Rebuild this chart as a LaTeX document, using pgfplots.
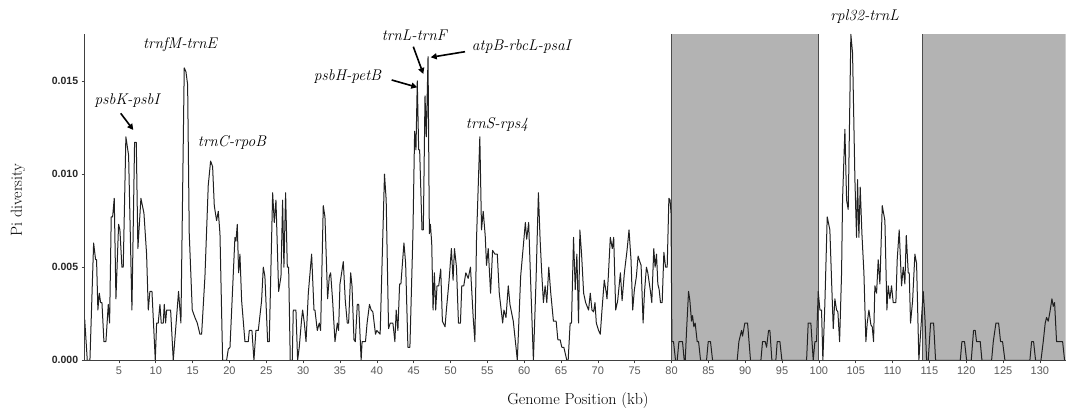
\documentclass[border=0pt]{standalone}
\usepackage{fontspec}
\usepackage{pgfplots}
\pgfplotsset{compat=1.18}
\usetikzlibrary{arrows.meta}
\newfontfamily\arial{Liberation Sans}
\definecolor{shade}{HTML}{B3B3B3}
\definecolor{curve}{HTML}{202020}
\pgfplotstableread{
kb pi
0.35 0.0022
0.70 0
1.06 0
1.56 0.0063
1.83 0.0054
1.96 0.0054
2.14 0.0027
2.33 0.0036
2.51 0.0031
2.69 0.0031
2.96 0.0010
3.23 0.0010
3.55 0.0030
3.73 0.0020
3.95 0.0077
4.14 0.0077
4.36 0.0087
4.59 0.0033
4.95 0.0073
5.13 0.0070
5.40 0.0050
5.58 0.0050
5.94 0.0120
6.31 0.0110
6.76 0.0027
7.12 0.0117
7.35 0.0117
7.57 0.0060
7.98 0.0087
8.39 0.0079
8.75 0.0057
8.98 0.0027
9.20 0.0037
9.48 0.0037
9.93 0
10.11 0.0020
10.33 0.0020
10.56 0.0030
10.74 0.0020
11.01 0.0020
11.15 0.0030
11.33 0.0020
11.47 0.0027
12.01 0.0027
12.37 0
13.09 0.0037
13.41 0.0020
13.86 0.0157
14.09 0.0155
14.32 0.0148
14.54 0.0068
14.95 0.0027
15.31 0.0023
15.63 0.0020
15.99 0.0014
16.22 0.0014
16.67 0.0045
17.12 0.0094
17.44 0.0107
17.71 0.0104
17.94 0.0083
18.25 0.0075
18.48 0.0080
18.71 0.0068
19.07 0
19.61 0
19.84 0.0006
20.07 0.0007
20.74 0.0066
20.88 0.0064
21.06 0.0073
21.24 0.0047
21.42 0.0057
21.65 0.0032
22.10 0.0010
22.55 0.0010
22.69 0.0016
23.05 0.0016
23.32 0
23.59 0.0016
23.91 0.0016
24.36 0.0032
24.59 0.0050
24.81 0.0045
25.18 0.0010
25.40 0.0010
25.86 0.0090
26.08 0.0074
26.31 0.0086
26.67 0.0037
26.99 0.0045
27.21 0.0086
27.39 0.0050
27.62 0.0090
27.85 0.0050
28.03 0.0050
28.25 0
28.52 0
28.66 0.0027
29.02 0.0027
29.25 0
29.47 0.0007
29.79 0.0022
29.93 0.0027
30.16 0.0020
30.39 0.0010
30.70 0.0036
31.15 0.0057
31.47 0.0027
31.60 0.0027
31.92 0.0016
32.19 0.0020
32.37 0.0016
32.73 0.0083
32.96 0.0077
33.32 0.0033
33.55 0.0045
33.73 0.0047
34.00 0.0032
34.32 0.0010
34.64 0.0020
34.81 0.0016
35.00 0.0041
35.45 0.0053
35.72 0.0032
35.99 0.0020
36.17 0.0020
36.45 0.0047
36.63 0.0040
36.90 0.0011
37.08 0.0010
37.35 0.0030
37.54 0.0030
37.87 0
38.00 0.0010
38.46 0.0010
38.68 0.0020
39.00 0.0030
39.23 0.0027
39.46 0.0026
39.82 0.0014
40.00 0.0016
40.23 0.0015
40.45 0.0014
41.04 0.0100
41.27 0.0086
41.59 0.0017
41.82 0.0020
42.18 0.0020
42.32 0.0015
42.45 0.0010
42.63 0.0027
42.86 0.0016
43.09 0.0041
43.27 0.0041
43.68 0.0063
43.91 0.0052
44.22 0.0007
44.49 0.0007
44.90 0.0068
45.13 0.0123
45.31 0.0113
45.49 0.0150
45.68 0.0113
45.81 0.0113
46.13 0.0070
46.31 0.0070
46.54 0.0142
46.72 0.0120
46.95 0.0163
47.13 0.0068
47.27 0.0073
47.45 0.0063
47.63 0.0027
47.81 0.0047
47.99 0.0027
48.17 0.0040
48.40 0.0040
48.67 0.0049
48.90 0.0021
49.26 0.0018
49.44 0.0027
49.81 0.0043
50.12 0.0060
50.35 0.0043
50.54 0.0060
50.81 0.0050
51.08 0.0020
51.35 0.0020
51.53 0.0040
51.80 0.0040
52.08 0.0047
52.40 0.0044
52.71 0.0050
53.08 0.0023
53.31 0.0010
53.53 0.0065
53.98 0.0120
54.21 0.0070
54.44 0.0080
54.71 0.0067
54.89 0.0051
55.12 0.0060
55.44 0.0036
55.71 0.0059
56.03 0.0057
56.35 0.0057
56.62 0.0036
57.08 0.0020
57.25 0.0027
57.53 0.0023
57.84 0.0040
58.07 0.0030
58.52 0.0021
58.89 0.0007
59.07 0
59.52 0.0045
60.16 0.0074
60.34 0.0065
60.61 0.0074
60.88 0.0042
61.25 0
61.61 0.0043
61.93 0.0090
62.16 0.0065
62.38 0.0047
62.61 0.0031
62.84 0.0040
63.07 0.0031
63.34 0.0050
63.61 0.0036
63.97 0.0021
64.34 0.0021
64.57 0.0011
64.88 0.0011
65.11 0.0007
65.38 0.0007
65.79 0
65.97 0
66.24 0.0020
66.42 0.0020
66.70 0.0066
66.93 0.0038
67.15 0.0057
67.38 0.0020
67.56 0.0070
67.79 0.0057
68.07 0.0036
68.34 0.0031
68.74 0.0027
68.97 0.0036
69.20 0.0027
69.42 0.0026
69.61 0.0031
69.79 0.0020
70.10 0.0016
70.33 0.0014
70.56 0.0027
70.87 0.0043
71.15 0.0036
71.24 0.0033
71.42 0.0045
71.69 0.0066
71.96 0.0060
72.15 0.0066
72.42 0.0027
72.69 0.0032
73.06 0.0047
73.29 0.0032
73.60 0.0047
73.96 0.0059
74.23 0.0070
74.50 0.0054
74.73 0.0027
74.96 0.0038
75.23 0.0045
75.46 0.0056
75.69 0.0053
75.87 0.0051
76.14 0.0020
76.32 0.0036
76.59 0.0050
76.78 0.0047
77.14 0.0037
77.32 0.0031
77.59 0.0060
77.77 0.0050
77.96 0.0057
78.14 0.0041
78.32 0.0038
78.50 0.0031
78.73 0.0031
78.96 0.0058
79.19 0.0050
79.41 0.0050
79.64 0.0087
79.80 0.0086
79.93 0.0079
80.05 0.0010
80.27 0.0010
80.54 0
80.77 0
81.00 0.0010
81.49 0.0010
81.72 0
81.86 0
82.04 0.0016
82.31 0.0037
82.49 0.0032
82.71 0.0021
82.85 0.0024
83.03 0.0018
83.21 0.0020
83.48 0.0010
83.67 0.0010
83.94 0
84.75 0
84.98 0.0010
85.29 0.0010
85.57 0
88.91 0
89.14 0.0010
89.50 0.0016
89.64 0.0013
89.95 0.0020
90.32 0.0020
90.72 0
92.13 0
92.35 0.0010
92.72 0.0010
92.90 0.0007
93.17 0.0016
93.35 0.0016
93.62 0
94.16 0
94.34 0.0010
94.71 0.0010
94.98 0
98.33 0
98.55 0.0020
98.91 0.0020
99.23 0
99.46 0.0010
99.68 0.0010
99.91 0.0037
100.14 0.0027
100.36 0.0027
100.54 0
100.81 0.0030
101.13 0.0077
101.49 0.0070
101.72 0.0043
101.95 0.0017
102.17 0.0033
102.40 0.0027
102.58 0.0026
102.81 0.0010
103.08 0.0047
103.21 0.0086
103.53 0.0124
103.76 0.0086
103.98 0.0081
104.34 0.0175
104.57 0.0165
104.89 0.0097
105.11 0.0066
105.25 0.0097
105.43 0.0066
105.61 0.0093
105.84 0.0068
106.11 0.0047
106.38 0.0010
106.56 0.0020
106.79 0.0027
107.06 0.0019
107.24 0.0018
107.42 0.0010
107.60 0.0040
107.83 0.0036
108.05 0.0054
108.28 0.0041
108.60 0.0083
108.96 0.0075
109.23 0.0027
109.41 0.0040
109.64 0.0033
109.86 0.0040
110.09 0.0031
110.45 0.0031
110.63 0.0054
110.90 0.0070
111.22 0.0040
111.45 0.0050
111.67 0.0041
111.86 0.0067
112.13 0.0047
112.26 0.0047
112.44 0.0020
112.72 0.0032
113.03 0.0057
113.26 0.0052
113.57 0
114.16 0.0037
114.39 0.0023
114.62 0
114.84 0
115.16 0.0020
115.57 0.0020
115.84 0
119.19 0
119.41 0.0010
119.77 0.0010
120.05 0
120.68 0
120.99 0.0016
121.22 0.0016
121.40 0.0010
121.90 0.0010
122.13 0
123.44 0
123.67 0.0010
124.03 0.0020
124.39 0.0020
124.66 0.0010
124.93 0.0010
125.25 0
128.64 0
128.87 0.0010
129.14 0.0010
129.41 0
130.14 0
130.45 0.0010
130.72 0.0020
130.90 0.0023
131.13 0.0021
131.36 0.0026
131.63 0.0033
131.81 0.0029
131.99 0.0031
132.26 0.0010
133.08 0.0010
133.35 0
}\pidata

\begin{document}
\begin{tikzpicture}
\useasboundingbox (0pt,0pt) rectangle (1066pt,412pt);
\begin{axis}[
  at={(84.7pt,51.7pt)}, anchor=south west,
  scale only axis, width=981pt, height=326.3pt,
  xmin=0.35, xmax=133.5, ymin=0, ymax=0.01752,
  axis x line*=bottom, axis y line*=left,
  axis line style={black!75, line width=0.8pt, -},
  xtick={5,10,...,130},
  ytick={0,0.005,0.01,0.015},
  yticklabels={0.000,0.005,0.010,0.015},
  scaled y ticks=false,
  tick align=outside, major tick length=3pt,
  tick style={black!75, line width=0.6pt},
  xticklabel style={font=\arial\fontsize{11}{12}\selectfont, text=black!65},
  yticklabel style={font=\arial\bfseries\fontsize{10.5}{12}\selectfont, text=black!85},
  /pgf/number format/assume math mode=true,
  axis on top,
]
\addplot[draw=none, fill=shade] coordinates {(80,0) (80,0.01752) (100,0.01752) (100,0)} -- cycle;
\addplot[draw=none, fill=shade] coordinates {(114,0) (114,0.01752) (133.5,0.01752) (133.5,0)} -- cycle;
\addplot[black!70, line width=1pt] coordinates {(80,0) (80,0.01752)};
\addplot[black!70, line width=1pt] coordinates {(100,0) (100,0.01752)};
\addplot[black!70, line width=1pt] coordinates {(114,0) (114,0.01752)};
\addplot[curve, line width=1pt, line join=round] table[x=kb, y=pi] {\pidata};
\end{axis}
\begin{scope}[every node/.style={font=\fontsize{15.5}{17}\selectfont\itshape}]
\node at (180pt,367pt) {trnfM-trnE};
\node at (127pt,311pt) {psbK-psbI};
\node at (232pt,269pt) {trnC-rpoB};
\node at (347.5pt,335pt) {psbH-petB};
\node at (414.3pt,377pt) {trnL-trnF};
\node at (521.3pt,365.3pt) {atpB-rbcL-psaI};
\node at (497pt,287pt) {trnS-rps4};
\node at (864.7pt,395.3pt) {rpl32-trnL};
\end{scope}
\begin{scope}[line width=1.6pt, -{Triangle[length=6pt,width=6pt]}]
\draw (120.7pt,298.7pt) -- (133.3pt,282pt);
\draw (391.7pt,332pt) -- (417.3pt,324.7pt);
\draw (413.3pt,365.3pt) -- (423.3pt,338pt);
\draw (465pt,360.3pt) -- (430.7pt,354.7pt);
\end{scope}
\node[rotate=90, font=\fontsize{16}{18}\selectfont] at (18pt,212pt) {Pi diversity};
\node[font=\fontsize{16}{18}\selectfont] at (578pt,11.5pt) {Genome Position (kb)};
\end{tikzpicture}
\end{document}
